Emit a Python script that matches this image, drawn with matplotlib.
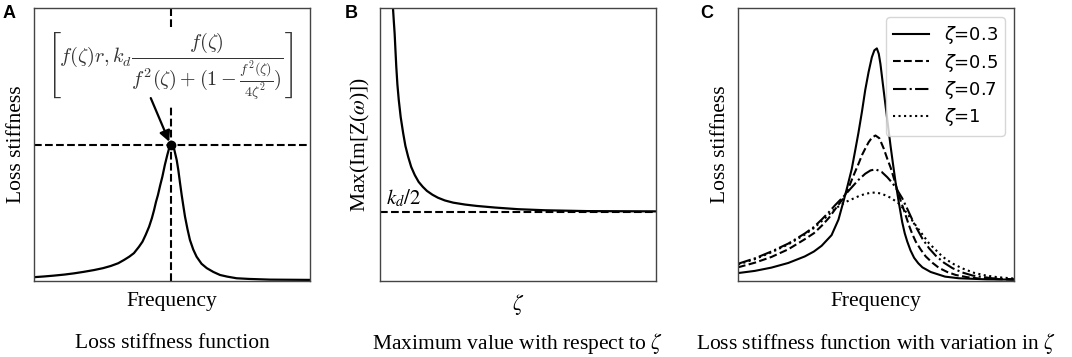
import matplotlib
matplotlib.use('Agg')
import matplotlib.pyplot as plt

plt.rcParams['font.family'] = ['Liberation Serif', 'DejaVu Serif']
plt.rcParams['mathtext.fontset'] = 'stix'

# Panel A: loss stiffness vs frequency (arbitrary units 0-100)
freq_a = [0, 3.5, 7, 11, 14.5, 18, 21.7, 25, 27.8, 30.5, 32.6, 34.5, 36.2, 38,
          39.3, 40.5, 41.7, 42.7, 43.5, 44.2, 44.9, 45.7, 46.5, 47.4, 48.3, 49.0,
          49.6, 50.2, 50.8, 51.7, 52.3, 52.9, 53.5, 54.1, 54.7, 55.6, 56.5, 57.7,
          58.9, 60.7, 62.6, 65, 67.4, 70, 73.4, 78, 85.5, 100]
loss_a = [1.4, 1.65, 1.95, 2.35, 2.8, 3.35, 4.0, 4.7, 5.5, 6.5, 7.7, 8.9, 10.2,
          12.5, 14.4, 17.0, 19.9, 23.0, 26.0, 29.0, 31.5, 35.0, 38.2, 42.5, 46.2,
          48.8, 49.8, 49.5, 48.2, 44.3, 40.5, 35.9, 31.5, 27.5, 23.6, 19.0, 15.0,
          11.5, 8.9, 6.3, 4.7, 3.3, 2.2, 1.6, 1.0, 0.75, 0.5, 0.4]
peak_a = (49.6, 49.8)
arrow_tail_a = (42.3, 67.0)

# Panel B: max loss stiffness vs zeta
zeta_b = [4.5, 4.7, 5.0, 5.3, 5.6, 5.9, 6.3, 6.8, 7.5, 8.4, 9.2, 10.2, 11.3, 12.6,
          14.0, 15.5, 17.0, 19.0, 21.0, 23.5, 26.5, 30.8, 35.0, 41.7, 50, 60, 75, 100]
max_b = [104, 100, 95.2, 90.7, 84.5, 78.5, 72.0, 66.3, 60.0, 54.1, 49.5, 45.5,
         41.8, 38.8, 36.3, 34.5, 33.0, 31.6, 30.5, 29.5, 28.7, 28.0, 27.5, 26.9,
         26.3, 25.9, 25.6, 25.5]
half_kd = 25.4

# Panel C: loss stiffness for several zeta
labels_c = [r'$\zeta$=0.3', r'$\zeta$=0.5', r'$\zeta$=0.7', r'$\zeta$=1']
freq_c03 = [0, 6.1, 12.1, 18.2, 24.2, 27.5, 30.3, 33.9, 36.4, 38.3, 39.6, 41.2,
            42.4, 43.6, 44.9, 46.1, 47.3, 48.5, 49.4, 50.3, 51.0, 51.6, 52.5, 53.5,
            54.4, 55.3, 56.2, 57.1, 58.3, 59.5, 60.4, 61.3, 62.5, 63.8, 65.3, 66.8,
            69.8, 75, 80, 90, 100]
loss_c03 = [2.9, 3.7, 4.9, 6.6, 9.0, 10.8, 12.9, 16.8, 22.5, 29.5, 34.5, 41.0,
            47.5, 54.1, 62.0, 70.0, 76.5, 82.0, 84.5, 85.2, 83.2, 79.5, 72.0, 63.8,
            56.5, 49.2, 42.5, 36.0, 28.5, 21.5, 17.5, 14.5, 11.2, 8.5, 6.5, 5.0,
            3.3, 1.6, 1.0, 0.6, 0.5]
freq_c05 = [0, 6.1, 12.1, 18.2, 24.2, 27.5, 30.3, 33, 35.2, 38.3, 40.0, 41.8, 43.6,
            45.0, 46.1, 47.3, 48.5, 49.8, 51.2, 52.8, 54.0, 55.3, 56.5, 57.7, 58.9,
            60.1, 61.9, 63.1, 64.4, 66.2, 68.0, 70.4, 72.8, 75.8, 78.9, 83, 87.4, 100]
loss_c05 = [5.0, 6.7, 8.8, 11.6, 15.3, 17.5, 20.2, 23.2, 26.3, 30.5, 34.0, 38.5,
            42.8, 46.3, 48.5, 50.8, 52.5, 53.3, 52.3, 48.5, 45.0, 41.5, 37.5, 33.3,
            29.5, 26.0, 20.5, 17.3, 14.4, 11.5, 9.0, 6.7, 4.8, 3.3, 2.2, 1.4, 0.9, 0.5]
freq_c07 = [0, 6.1, 12.1, 18.2, 24.2, 27.5, 30.3, 33, 35.2, 38.3, 41.2, 43.6, 46.1,
            48.0, 49.8, 52.0, 54.1, 56.0, 57.7, 59.5, 61.3, 63.8, 66.8, 69.2, 71.6,
            74.6, 77.7, 81.3, 85.0, 92, 100]
loss_c07 = [6.3, 8.3, 10.8, 13.7, 17.4, 19.8, 22.5, 25.3, 27.8, 31.0, 34.3, 37.0,
            39.3, 40.5, 40.9, 40.0, 38.0, 35.8, 33.3, 30.3, 26.5, 21.0, 15.5, 12.0,
            9.3, 6.7, 4.7, 3.1, 2.0, 1.0, 0.6]
freq_c10 = [0, 6.1, 12.1, 18.2, 24.2, 27.5, 30.3, 33, 35.2, 37.5, 39.6, 41.8, 44,
            46.1, 48, 49.8, 52, 55.3, 58, 60.1, 62.5, 65.6, 69.2, 74.1, 77.5, 81.3,
            85.5, 89.8, 94, 100]
loss_c10 = [6.0, 8.0, 10.5, 13.4, 17.0, 19.4, 21.9, 24.4, 26.5, 28.0, 29.2, 30.2,
            31.2, 31.9, 32.3, 32.4, 32.0, 30.5, 28.6, 26.3, 23.0, 18.7, 13.8, 8.9,
            6.5, 4.6, 3.0, 2.0, 1.4, 0.9]

fig = plt.figure(figsize=(10.72, 3.57), dpi=100)
ax_w, ax_h, ax_b = 0.2575, 0.7647, 0.2129
ax1 = fig.add_axes([34 / 1072, ax_b, ax_w, ax_h])
ax2 = fig.add_axes([380 / 1072, ax_b, ax_w, ax_h])
ax3 = fig.add_axes([738 / 1072, ax_b, ax_w, ax_h])

lab_fs = 15.5
for ax in (ax1, ax2, ax3):
    ax.set_xlim(0, 100)
    ax.set_ylim(0, 100)
    ax.set_xticks([])
    ax.set_yticks([])
    for s in ax.spines.values():
        s.set_color('#444444')
        s.set_linewidth(1.0)

# --- A
ax1.plot(freq_a, loss_a, color='black', lw=1.6)
ax1.axhline(peak_a[1], color='black', ls='--', lw=1.5)
ax1.axvline(peak_a[0], color='black', ls='--', lw=1.5)
ax1.plot(*peak_a, 'o', color='black', ms=6)
ax1.annotate('', xy=(peak_a[0] - 0.6, peak_a[1] + 1.2), xytext=arrow_tail_a,
             arrowprops=dict(arrowstyle='-|>', color='black', lw=1.6,
                             mutation_scale=16, shrinkA=0, shrinkB=0),
             zorder=5)
ax1.text(49.3, 78.5,
         r'$\left[f(\zeta)r, k_d\dfrac{f(\zeta)}{f^2(\zeta)+(1-\frac{f^2(\zeta)}{4\zeta^2})}\right]$',
         ha='center', va='center', fontsize=14.5, color='#333333', math_fontfamily='cm',
         bbox=dict(facecolor='white', edgecolor='none', pad=3), zorder=4)
ax1.set_xlabel('Frequency', fontsize=lab_fs, labelpad=8)
ax1.set_ylabel('Loss stiffness', fontsize=lab_fs, labelpad=6)

# --- B
ax2.plot(zeta_b, max_b, color='black', lw=1.6)
ax2.axhline(half_kd, color='black', ls='--', lw=1.5)
ax2.text(2.0, half_kd + 1.0, r'$k_d/2$', fontsize=15, ha='left', va='bottom')
ax2.set_xlabel(r'$\zeta$', fontsize=lab_fs, labelpad=8)
ax2.set_ylabel(r'Max(Im[Z($\omega$)])', fontsize=lab_fs, labelpad=6)

# --- C
ax3.plot(freq_c03, loss_c03, color='black', lw=1.5, ls='-', label=labels_c[0])
ax3.plot(freq_c05, loss_c05, color='black', lw=1.5, ls='--', label=labels_c[1])
ax3.plot(freq_c07, loss_c07, color='black', lw=1.5, ls='-.', label=labels_c[2])
ax3.plot(freq_c10, loss_c10, color='black', lw=1.5, ls=':', label=labels_c[3])
leg = ax3.legend(loc='upper right', prop={'family': 'DejaVu Sans', 'size': 13},
                 labelspacing=0.3)
for t in leg.get_texts():
    t.set_math_fontfamily('dejavusans')
ax3.set_xlabel('Frequency', fontsize=lab_fs, labelpad=8)
ax3.set_ylabel('Loss stiffness', fontsize=lab_fs, labelpad=6)

# titles under panels
ty = 13 / 357
fig.text(172 / 1072, ty, 'Loss stiffness function', ha='center', va='center', fontsize=lab_fs)
fig.text(517.5 / 1072, ty, r'Maximum value with respect to $\zeta$', ha='center', va='center',
         fontsize=lab_fs)
fig.text(875.5 / 1072, ty, r'Loss stiffness function with variation in $\zeta$', ha='center',
         va='center', fontsize=lab_fs)

# panel letters
for xp, letter in [(3, 'A'), (345, 'B'), (700, 'C')]:
    fig.text(xp / 1072, 1 - 5 / 357, letter, ha='left', va='top', fontsize=13,
             fontweight='bold', family='Liberation Sans')

plt.savefig('out.png', dpi=100)
